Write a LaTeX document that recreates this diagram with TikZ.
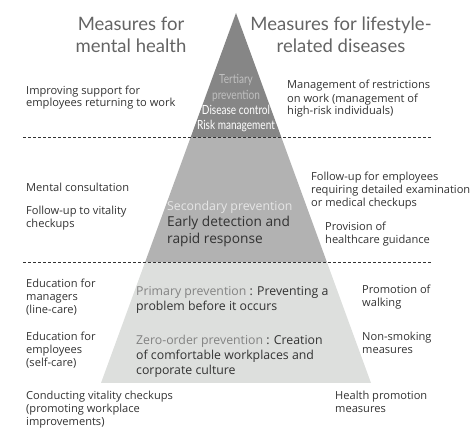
\documentclass[tikz,border=0pt]{standalone}
\usepackage{fontspec}
\setmainfont{Open Sans}
\newfontfamily\titlefont{Lato}
\usepackage{graphicx}
\definecolor{band1}{RGB}{134,134,134}
\definecolor{band2}{RGB}{178,178,178}
\definecolor{band3}{RGB}{221,223,221}
\definecolor{titlec}{RGB}{100,100,100}
\definecolor{bodyc}{RGB}{50,50,50}
\definecolor{lightc}{RGB}{192,192,192}
\definecolor{secc}{RGB}{230,230,230}
\definecolor{primc}{RGB}{130,130,130}
\tikzset{
  titletext/.style={anchor=base, align=center, text=titlec, inner sep=0pt, font=\titlefont\fontsize{18.5}{22}\selectfont},
  bodytext/.style={anchor=base west, align=left, text=bodyc, inner sep=0pt, font=\fontsize{11.1}{13}\selectfont},
  midtext/.style={anchor=base west, align=left, text=bodyc, inner sep=0pt, font=\fontsize{12.3}{15}\selectfont},
  sectext/.style={anchor=base west, align=left, text=bodyc, inner sep=0pt, font=\fontsize{13.7}{16.5}\selectfont},
  tertext/.style={anchor=base, align=center, text=white, inner sep=0pt, font=\titlefont\fontsize{12.6}{15.5}\selectfont},
  sepline/.style={dashed, dash pattern=on 3pt off 2pt, line width=0.6pt, draw=bodyc}
}
\begin{document}
\begin{tikzpicture}[x=1pt,y=-1pt]
\useasboundingbox (0,0) rectangle (472,428);
\clip (0,0) rectangle (472,428);
% pyramid
\begin{scope}
\clip (236,13) -- (371,383) -- (101,383) -- cycle;
\fill[band1] (90,0) rectangle (380,137);
\fill[band2] (90,137) rectangle (380,262);
\fill[band3] (90,262) rectangle (380,383);
\end{scope}
% separators
\coordinate (s1l) at (23,137.5);
\coordinate (s1r) at (432,137.5);
\coordinate (s2l) at (23,262.5);
\coordinate (s2r) at (432,262.5);
\draw[sepline] (s1l) -- (s1r);
\draw[sepline] (s2l) -- (s2r);
% titles (anchor = baseline of last line)
\node[titletext] (tl) at (131,53) {Measures for\\mental health};
\node[titletext] (tr) at (341,53) {Measures for lifestyle-\\related diseases};
% tertiary
\node[tertext] (ter) at (236,130) {\textcolor{lightc}{\scalebox{0.8}[1]{Tertiary}}\\\textcolor{lightc}{\scalebox{0.8}[1]{prevention}}\\\scalebox{0.8}[1]{Disease control}\\\scalebox{0.8}[1]{Risk management}};
% secondary
\node[sectext] (sec) at (167,243) {{\color{secc}\fontsize{12.3}{15}\selectfont Secondary prevention}\\Early detection and\\rapid response};
% primary
\node[midtext] (pri) at (136,310) {{\color{primc}Primary prevention} : Preventing a\\problem before it occurs};
\node[midtext] (zero) at (136,374) {{\color{primc}Zero-order prevention} : Creation\\of comfortable workplaces and\\corporate culture};
% left
\node[bodytext] (l1) at (26,107) {Improving support for\\employees returning to work};
\node[bodytext] (l2) at (26,192) {Mental consultation};
\node[bodytext] (l3) at (26,227) {Follow-up to vitality\\checkups};
\node[bodytext] (l4) at (26,313) {Education for\\managers\\(line-care)};
\node[bodytext] (l5) at (26,366) {Education for\\employees\\(self-care)};
\node[bodytext] (l6) at (26,425) {Conducting vitality checkups\\(promoting workplace\\improvements)};
% right
\node[bodytext] (r1) at (287,115) {Management of restrictions\\on work (management of\\high-risk individuals)};
\node[bodytext] (r2) at (311,206) {Follow-up for employees\\requiring detailed examination\\or medical checkups};
\node[bodytext] (r3) at (325,243) {Provision of\\healthcare guidance};
\node[bodytext] (r4) at (362,306) {Promotion of\\walking};
\node[bodytext] (r5) at (362,353) {Non-smoking\\measures};
\node[bodytext] (r6) at (335,412) {Health promotion\\measures};
\end{tikzpicture}
\end{document}
